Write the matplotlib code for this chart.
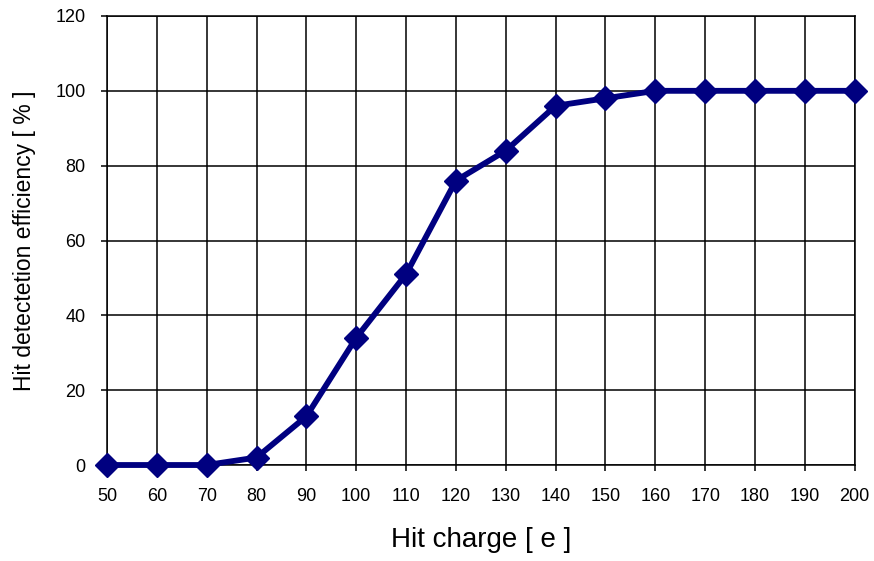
import matplotlib
matplotlib.use("Agg")
import matplotlib.pyplot as plt

charge = [50, 60, 70, 80, 90, 100, 110, 120, 130, 140, 150, 160, 170, 180, 190, 200]
efficiency = [0, 0, 0, 2, 13, 34, 51, 76, 84, 96, 98, 100, 100, 100, 100, 100]
y_ticks = [0, 20, 40, 60, 80, 100, 120]

plt.rcParams['font.family'] = ['Liberation Sans', 'DejaVu Sans']

fig = plt.figure(figsize=(8.74, 5.61), dpi=100)
ax = fig.add_axes([0.1224, 0.1711, 0.8555, 0.8004])

ax.plot(charge, efficiency, color='#000080', linewidth=4.2, marker='D',
        markersize=12, markerfacecolor='#000080', markeredgecolor='#000080',
        zorder=5, clip_on=False)

ax.set_xlim(charge[0], charge[-1])
ax.set_ylim(0, 120)
ax.set_xticks(charge)
ax.set_xticklabels([str(c) for c in charge])
ax.set_yticks(y_ticks)
ax.grid(True, color='black', linewidth=1.1)
for s in ax.spines.values():
    s.set_color('black')
    s.set_linewidth(1.1)
ax.tick_params(axis='both', direction='out', length=4.5, width=1.1, labelsize=13, colors='black')
ax.tick_params(axis='x', pad=12)
ax.tick_params(axis='y', pad=11)

ax.set_xlabel('Hit charge [ e ]', fontsize=20, labelpad=16)
ax.set_ylabel('Hit detectetion efficiency [ % ]', fontsize=16.5, labelpad=14)

fig.savefig('out.png', dpi=100, facecolor='white')
